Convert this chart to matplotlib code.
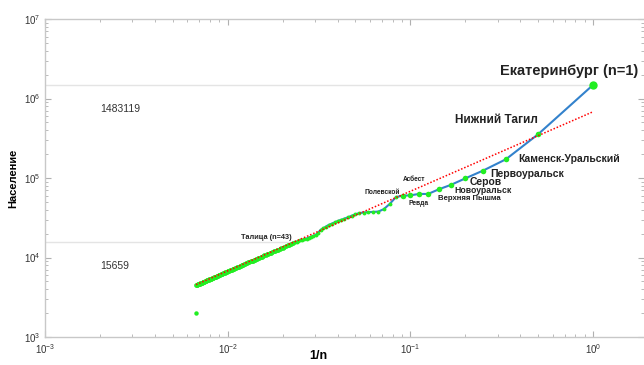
import numpy as np
import matplotlib
matplotlib.use('Agg')
import matplotlib.pyplot as plt

plt.rcParams['font.family'] = ['Liberation Sans', 'DejaVu Sans']
plt.rcParams['mathtext.default'] = 'regular'

# rank n = 1..149 and population
pop = [1483119, 355000, 172000, 124000, 99000, 82000, 72000, 63000, 63000, 60500,
       60000, 57500, 47000, 40500, 37800, 37500, 37200, 36800, 36200, 35000,
       33500, 32000, 30800, 29800, 28800, 27600, 26600, 25700, 24500, 23300,
       22300, 20500, 19300, 18700, 18300, 17800, 17300, 16900, 16600, 16400,
       16100, 15850, 15659, 15180, 14840, 14520, 14210, 13920, 13630, 13360,
       13100, 12850, 12600, 12370, 12150, 11930, 11720, 11520, 11320, 11130,
       10950, 10770, 10600, 10440, 10280, 10120, 9970, 9820, 9680, 9540,
       9410, 9280, 9150, 9030, 8910, 8790, 8680, 8560, 8460, 8350,
       8250, 8150, 8050, 7950, 7860, 7770, 7680, 7590, 7510, 7420,
       7340, 7260, 7180, 7110, 7030, 6960, 6890, 6820, 6750, 6680,
       6610, 6550, 6490, 6420, 6360, 6300, 6240, 6190, 6130, 6070,
       6020, 5960, 5910, 5860, 5810, 5760, 5710, 5660, 5610, 5570,
       5520, 5480, 5430, 5390, 5340, 5300, 5260, 5220, 5180, 5140,
       5100, 5060, 5020, 4990, 4950, 4910, 4880, 4840, 4810, 4770,
       4740, 4700, 4670, 4640, 4610, 4580, 4540, 4510, 4480]
rank = np.arange(1, len(pop) + 1)

# isolated last point
extra_rank = [150]
extra_pop = [2000]

# power-law fit line end points (rank, population)
fit_rank = [149, 1]
fit_pop = [4560, 682000]

# marked levels
levels = [1483119, 15659]
level_rank = [1, 43]

# label text, font size, position (1/n, population)
labels = [
    ('Екатеринбург (n=1)', 10.5, 0.743, 2.24e6),
    ('Нижний Тагил', 8.5, 0.294, 5.37e5),
    ('Каменск-Уральский', 7.5, 0.739, 1.72e5),
    ('Первоуральск', 7.5, 0.4375, 1.12e5),
    ('Серов', 7.5, 0.257, 8.98e4),
    ('Новоуральск', 6.2, 0.2496, 7.06e4),
    ('Верхняя Пышма', 5.6, 0.209, 5.56e4),
    ('Ревда', 4.8, 0.1115, 4.81e4),
    ('Асбест', 4.8, 0.1047, 9.7e4),
    ('Полевской', 4.8, 0.0704, 6.6e4),
    ('Талица (n=43)', 5.3, 0.0162, 1.77e4),
]

fig = plt.figure(figsize=(6.44, 3.65), dpi=100)
ax = fig.add_axes([0.0699, 0.0767, 0.9301, 0.8712])
x = 1.0 / rank

for lv, r in zip(levels, level_rank):
    ax.plot([1e-3, 1.0 / r], [lv, lv], color='#e4e4e4', lw=1.0, zorder=1)

ax.plot(x, pop, color='#3382cc', lw=1.5, zorder=2)
green = '#22ee22'
ax.plot(x[43:], pop[43:], 'o', color=green, ms=3.4, mec='none', zorder=3)
ax.plot(x[11:43], pop[11:43], 'o', color=green, ms=2.8, mec='none', zorder=3)
ax.plot(x[1:11], pop[1:11], 'o', color=green, ms=4.0, mec='none', zorder=3)
ax.plot(x[:1], pop[:1], 'o', color=green, ms=6.0, mec='none', zorder=3)
ax.plot(1.0 / np.array(extra_rank), extra_pop, 'o', color=green, ms=3.2,
        mec='none', zorder=3)

ax.plot(1.0 / np.array(fit_rank), fit_pop, color='red', lw=1.1,
        ls=(0, (1, 1.2)), zorder=4)

for txt, fs, tx, ty in labels:
    ax.text(tx, ty, txt, fontsize=fs, fontweight='bold', ha='center',
            va='center', color='#222222', zorder=5)

ax.text(2.0e-3, 7.38e5, '1483119', fontsize=7.5, color='#333333', va='center')
ax.text(2.0e-3, 7.8e3, '15659', fontsize=7.5, color='#333333', va='center')

ax.set_xscale('log')
ax.set_yscale('log')
ax.set_xlim(1e-3, 1.90)
ax.set_ylim(1e3, 1e7)

for s in ['left', 'bottom', 'top']:
    ax.spines[s].set_color('#c8c8c8')
    ax.spines[s].set_linewidth(1.0)
ax.spines['right'].set_visible(False)

ax.tick_params(which='both', direction='in', top=True, right=True,
               color='#b0b0b0', labelsize=7, labelcolor='#333333')
ax.tick_params(which='major', length=4)
ax.tick_params(which='minor', length=2.5)
ax.tick_params(axis='y', pad=3)
ax.tick_params(axis='x', pad=4)

ax.set_xlabel('1/n', fontsize=9, fontweight='bold')
ax.xaxis.set_label_coords((318 - 45) / 599.0, -0.04)
ax.set_ylabel('Население', fontsize=8, fontweight='bold', labelpad=4)

plt.savefig('out.png', dpi=100)
